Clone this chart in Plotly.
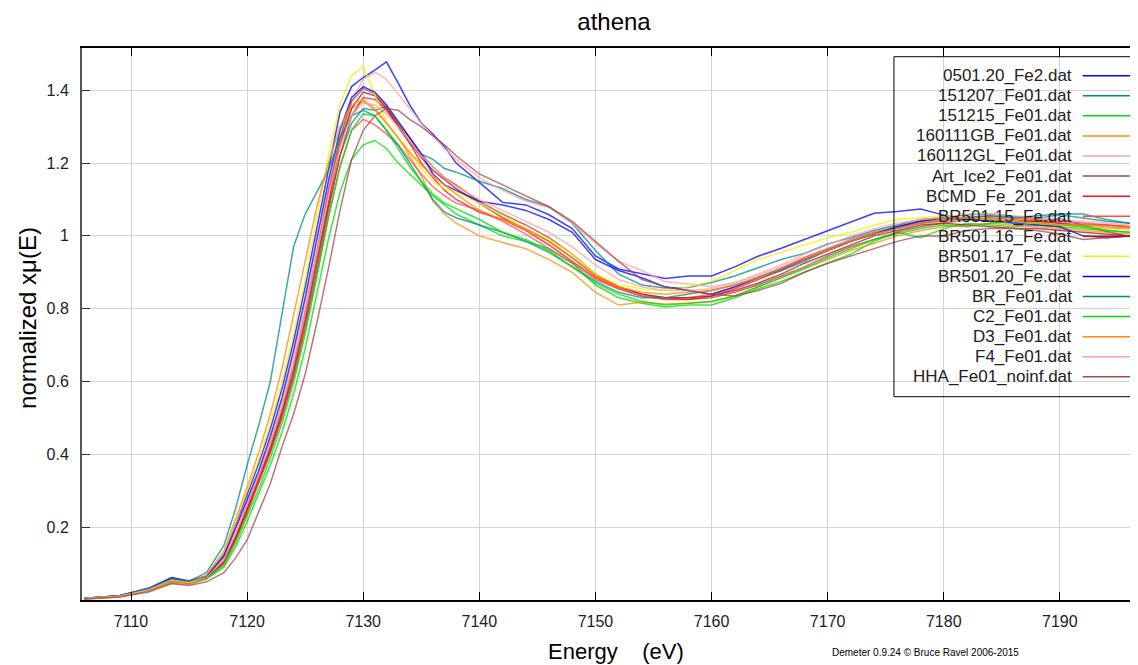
import plotly.graph_objects as go

# energy grid (eV)
energy = [7106, 7109, 7111.5, 7113.5, 7115, 7116.5,
          7118, 7119, 7120, 7121, 7122, 7123, 7124, 7125, 7126, 7127, 7128, 7129, 7130,
          7131, 7132, 7133, 7134, 7135, 7136, 7137, 7138,
          7140, 7142, 7144, 7146, 7148, 7150, 7152, 7154, 7156, 7158, 7160, 7162, 7164,
          7166, 7168, 7170, 7172, 7174, 7176, 7178, 7180, 7182, 7184, 7186, 7188, 7190,
          7192, 7194, 7196, 7197]

# normalized mu(E) for each file
mu_0501_20_Fe2 = [0.005, 0.012, 0.032, 0.062, 0.052, 0.066,
                  0.125, 0.205, 0.29, 0.375, 0.47, 0.58, 0.71, 0.86, 1.02, 1.18, 1.34, 1.41, 1.435,
                  1.455, 1.478, 1.42, 1.36, 1.31, 1.28, 1.245, 1.2,
                  1.147, 1.092, 1.085, 1.058, 1.02, 0.945, 0.909, 0.897, 0.883, 0.89, 0.89, 0.915, 0.944,
                  0.966, 0.99, 1.012, 1.037, 1.062, 1.067, 1.074, 1.057, 1.046, 1.042, 1.038, 1.04, 1.046,
                  1.03, 1.012, 0.998, 0.995]
mu_151207_Fe01 = [0.004, 0.010, 0.029, 0.056, 0.049, 0.062,
                  0.105, 0.17, 0.245, 0.325, 0.41, 0.51, 0.62, 0.76, 0.92, 1.08, 1.22, 1.31, 1.35,
                  1.345, 1.355, 1.3, 1.255, 1.225, 1.21, 1.185, 1.175,
                  1.15, 1.13, 1.1, 1.08, 1.035, 0.96, 0.895, 0.865, 0.857, 0.858, 0.872, 0.89, 0.912,
                  0.935, 0.952, 0.978, 0.995, 1.015, 1.03, 1.045, 1.05, 1.058, 1.06, 1.055, 1.048, 1.058,
                  1.05, 1.04, 1.035, 1.035]
mu_151215_Fe01 = [0.003, 0.009, 0.026, 0.05, 0.045, 0.058,
                  0.09, 0.145, 0.215, 0.29, 0.37, 0.46, 0.565, 0.69, 0.84, 0.99, 1.12, 1.21, 1.25,
                  1.262, 1.24, 1.2, 1.17, 1.14, 1.11, 1.085, 1.06,
                  1.03, 1.0, 0.985, 0.965, 0.925, 0.865, 0.83, 0.815, 0.805, 0.81, 0.81, 0.83, 0.855,
                  0.875, 0.9, 0.925, 0.95, 0.985, 1.01, 0.995, 1.02, 1.035, 1.03, 1.025, 1.03, 1.025,
                  1.02, 1.015, 1.01, 1.01]
mu_160111GB_Fe01 = [0.003, 0.008, 0.024, 0.046, 0.042, 0.058,
                    0.11, 0.18, 0.26, 0.34, 0.43, 0.53, 0.65, 0.79, 0.95, 1.12, 1.26, 1.35, 1.37,
                    1.345, 1.31, 1.27, 1.22, 1.165, 1.095, 1.06, 1.035,
                    1.0, 0.982, 0.965, 0.935, 0.9, 0.845, 0.81, 0.818, 0.813, 0.815, 0.82, 0.835, 0.86,
                    0.885, 0.91, 0.935, 0.96, 0.98, 1.0, 1.015, 1.025, 1.03, 1.035, 1.03, 1.025, 1.02,
                    1.015, 1.01, 1.005, 1.005]
mu_160112GL_Fe01 = [0.004, 0.011, 0.03, 0.058, 0.05, 0.064,
                    0.115, 0.19, 0.27, 0.35, 0.44, 0.545, 0.67, 0.81, 0.97, 1.13, 1.27, 1.37, 1.43,
                    1.45, 1.43, 1.39, 1.35, 1.31, 1.275, 1.24, 1.21,
                    1.16, 1.125, 1.095, 1.078, 1.035, 0.98, 0.93, 0.905, 0.875, 0.868, 0.86, 0.872, 0.89,
                    0.915, 0.942, 0.965, 0.985, 1.008, 1.02, 1.035, 1.045, 1.05, 1.055, 1.05, 1.045, 1.04,
                    1.035, 1.03, 1.025, 1.025]
mu_Art_Ice2_Fe01 = [0.004, 0.011, 0.03, 0.06, 0.052, 0.063,
                    0.105, 0.175, 0.255, 0.335, 0.425, 0.525, 0.645, 0.79, 0.95, 1.12, 1.27, 1.37, 1.405,
                    1.39, 1.355, 1.31, 1.27, 1.225, 1.19, 1.16, 1.14,
                    1.095, 1.06, 1.03, 0.995, 0.95, 0.895, 0.86, 0.84, 0.83, 0.825, 0.83, 0.845, 0.865,
                    0.89, 0.915, 0.945, 0.97, 0.99, 1.01, 1.025, 1.035, 1.045, 1.05, 1.045, 1.04, 1.035,
                    1.03, 1.03, 1.025, 1.025]
mu_BCMD_Fe_201 = [0.004, 0.010, 0.028, 0.055, 0.048, 0.06,
                  0.1, 0.165, 0.24, 0.32, 0.405, 0.5, 0.61, 0.745, 0.9, 1.07, 1.22, 1.33, 1.38,
                  1.375, 1.345, 1.3, 1.255, 1.2, 1.16, 1.125, 1.1,
                  1.065, 1.045, 1.015, 0.975, 0.93, 0.885, 0.855, 0.835, 0.825, 0.825, 0.835, 0.855, 0.88,
                  0.905, 0.935, 0.96, 0.985, 1.005, 1.025, 1.04, 1.045, 1.05, 1.045, 1.04, 1.04, 1.035,
                  1.025, 1.02, 1.02, 1.02]
mu_BR501_15_Fe = [0.004, 0.010, 0.027, 0.053, 0.047, 0.06,
                  0.1, 0.165, 0.24, 0.32, 0.405, 0.5, 0.61, 0.745, 0.895, 1.05, 1.19, 1.29, 1.32,
                  1.305, 1.28, 1.25, 1.21, 1.17, 1.135, 1.11, 1.09,
                  1.07, 1.04, 1.005, 0.965, 0.925, 0.88, 0.855, 0.835, 0.83, 0.83, 0.84, 0.86, 0.885,
                  0.91, 0.94, 0.965, 0.99, 1.01, 1.025, 1.035, 1.04, 1.05, 1.055, 1.05, 1.045, 1.04,
                  1.035, 1.03, 1.025, 1.025]
mu_BR501_16_Fe = [0.004, 0.010, 0.028, 0.056, 0.049, 0.062,
                  0.105, 0.17, 0.25, 0.33, 0.415, 0.515, 0.63, 0.77, 0.93, 1.1, 1.25, 1.35, 1.395,
                  1.385, 1.35, 1.305, 1.26, 1.215, 1.18, 1.155, 1.13,
                  1.09, 1.05, 1.02, 0.985, 0.94, 0.89, 0.86, 0.84, 0.83, 0.83, 0.835, 0.85, 0.87,
                  0.895, 0.925, 0.95, 0.975, 1.0, 1.015, 1.03, 1.035, 1.03, 1.025, 1.02, 1.02, 1.015,
                  1.01, 1.005, 1.0, 1.0]
mu_BR501_17_Fe = [0.004, 0.011, 0.03, 0.057, 0.05, 0.066,
                  0.13, 0.21, 0.3, 0.385, 0.485, 0.6, 0.73, 0.88, 1.05, 1.22, 1.36, 1.44, 1.465,
                  1.385, 1.31, 1.27, 1.23, 1.185, 1.15, 1.13, 1.12,
                  1.09, 1.055, 1.02, 0.99, 0.95, 0.895, 0.865, 0.855, 0.85, 0.86, 0.875, 0.905, 0.935,
                  0.955, 0.975, 0.995, 1.01, 1.03, 1.045, 1.05, 1.055, 1.05, 1.045, 1.04, 1.035, 1.03,
                  1.025, 1.02, 1.02, 1.02]
mu_BR501_20_Fe = [0.005, 0.012, 0.031, 0.06, 0.051, 0.065,
                  0.12, 0.195, 0.275, 0.355, 0.45, 0.555, 0.685, 0.83, 0.99, 1.15, 1.29, 1.38, 1.41,
                  1.395, 1.36, 1.315, 1.27, 1.225, 1.17, 1.14, 1.125,
                  1.095, 1.085, 1.07, 1.045, 1.01, 0.935, 0.905, 0.885, 0.86, 0.85, 0.84, 0.86, 0.885,
                  0.91, 0.935, 0.96, 0.985, 1.005, 1.025, 1.04, 1.05, 1.045, 1.04, 1.035, 1.03, 1.025,
                  1.0, 0.995, 1.0, 1.0]
mu_BR_Fe01 = [0.005, 0.012, 0.032, 0.058, 0.052, 0.075,
              0.15, 0.25, 0.37, 0.48, 0.6, 0.78, 0.97, 1.06, 1.12, 1.18, 1.27, 1.33, 1.345,
              1.33, 1.29, 1.25, 1.2, 1.15, 1.1, 1.065, 1.05,
              1.03, 1.01, 0.985, 0.955, 0.915, 0.875, 0.845, 0.83, 0.83, 0.84, 0.85, 0.865, 0.885,
              0.905, 0.93, 0.96, 0.985, 1.005, 1.02, 1.035, 1.045, 1.05, 1.055, 1.05, 1.055, 1.06,
              1.06, 1.045, 1.035, 1.03]
mu_C2_Fe01 = [0.004, 0.010, 0.027, 0.052, 0.046, 0.059,
              0.095, 0.155, 0.23, 0.305, 0.39, 0.485, 0.595, 0.73, 0.885, 1.05, 1.19, 1.29, 1.335,
              1.33, 1.29, 1.24, 1.19, 1.15, 1.115, 1.09, 1.075,
              1.045, 1.01, 0.99, 0.96, 0.915, 0.87, 0.84, 0.82, 0.81, 0.815, 0.82, 0.835, 0.86,
              0.885, 0.91, 0.94, 0.965, 0.99, 1.005, 1.02, 1.03, 1.025, 1.035, 1.04, 1.035, 1.03,
              1.025, 1.015, 1.01, 1.01]
mu_D3_Fe01 = [0.004, 0.010, 0.026, 0.05, 0.046, 0.068,
              0.135, 0.22, 0.31, 0.405, 0.51, 0.635, 0.78, 0.93, 1.08, 1.2, 1.3, 1.36, 1.375,
              1.35, 1.31, 1.27, 1.23, 1.195, 1.165, 1.14, 1.115,
              1.07, 1.045, 1.02, 0.985, 0.94, 0.89, 0.86, 0.845, 0.84, 0.845, 0.85, 0.865, 0.885,
              0.91, 0.935, 0.96, 0.985, 1.005, 1.02, 1.035, 1.045, 1.05, 1.045, 1.04, 1.035, 1.03,
              1.03, 1.025, 1.02, 1.02]
mu_F4_Fe01 = [0.004, 0.010, 0.028, 0.055, 0.048, 0.062,
              0.11, 0.18, 0.26, 0.34, 0.43, 0.53, 0.65, 0.79, 0.95, 1.11, 1.245, 1.33, 1.365,
              1.36, 1.335, 1.3, 1.26, 1.22, 1.19, 1.16, 1.135,
              1.1, 1.07, 1.04, 1.01, 0.97, 0.92, 0.88, 0.86, 0.85, 0.85, 0.855, 0.87, 0.895,
              0.92, 0.95, 0.975, 1.0, 1.02, 1.035, 1.045, 1.05, 1.06, 1.06, 1.055, 1.05, 1.045,
              1.04, 1.035, 1.03, 1.03]
mu_HHA_Fe01_noinf = [0.003, 0.008, 0.022, 0.045, 0.04, 0.05,
                     0.075, 0.115, 0.165, 0.24, 0.32, 0.42, 0.51, 0.62, 0.76, 0.91, 1.07, 1.21, 1.29,
                     1.33, 1.35, 1.345, 1.32, 1.3, 1.275, 1.25, 1.22,
                     1.17, 1.14, 1.11, 1.08, 1.04, 0.985, 0.93, 0.88, 0.86, 0.85, 0.84, 0.835, 0.85,
                     0.87, 0.9, 0.925, 0.945, 0.965, 0.985, 1.0, 1.0, 1.015, 1.02, 1.02, 1.015, 1.005,
                     0.99, 0.995, 1.0, 1.0]

labels = ["0501.20_Fe2.dat", "151207_Fe01.dat", "151215_Fe01.dat", "160111GB_Fe01.dat",
          "160112GL_Fe01.dat", "Art_Ice2_Fe01.dat", "BCMD_Fe_201.dat", "BR501.15_Fe.dat",
          "BR501.16_Fe.dat", "BR501.17_Fe.dat", "BR501.20_Fe.dat", "BR_Fe01.dat",
          "C2_Fe01.dat", "D3_Fe01.dat", "F4_Fe01.dat", "HHA_Fe01_noinf.dat"]
series = [mu_0501_20_Fe2, mu_151207_Fe01, mu_151215_Fe01, mu_160111GB_Fe01,
          mu_160112GL_Fe01, mu_Art_Ice2_Fe01, mu_BCMD_Fe_201, mu_BR501_15_Fe,
          mu_BR501_16_Fe, mu_BR501_17_Fe, mu_BR501_20_Fe, mu_BR_Fe01,
          mu_C2_Fe01, mu_D3_Fe01, mu_F4_Fe01, mu_HHA_Fe01_noinf]
colors = ["#0000ff", "#008b8b", "#00dd00", "#ff8c00", "#ffa0a0", "#a84848",
          "#ff1010", "#ff4a4a", "#b01818", "#f2f200", "#0000ff", "#008b8b",
          "#00dd00", "#ff8c00", "#ffa0a0", "#a84848"]

ytick_vals = [0.2, 0.4, 0.6, 0.8, 1.0, 1.2, 1.4]
ytick_text = ["0.2", "0.4", "0.6", "0.8", "1", "1.2", "1.4"]
xtick_vals = [7110, 7120, 7130, 7140, 7150, 7160, 7170, 7180, 7190]

FONT = "Liberation Sans, Arial, sans-serif"

fig = go.Figure()
for name, ys, col in zip(labels, series, colors):
    fig.add_trace(go.Scatter(x=energy, y=ys, mode="lines", name=name,
                             line=dict(color=col, width=1.5), opacity=0.75,
                             showlegend=False))

# hand-built legend (text on the left, sample line on the right, like Demeter)
row0 = 0.9498
step = 0.03636
fig.add_shape(type="rect", xref="paper", yref="paper", x0=0.7689, x1=1.01,
              y0=0.3683, y1=0.9842, line=dict(color="black", width=1))
for i, (name, col) in enumerate(zip(labels, colors)):
    yy = row0 - i * step
    fig.add_annotation(xref="paper", yref="paper", x=0.9394, y=yy, text=name,
                       showarrow=False, xanchor="right", yanchor="middle",
                       font=dict(family=FONT, size=17, color="#222222"))
    fig.add_shape(type="line", xref="paper", yref="paper", x0=0.9476, x1=0.9924,
                  y0=yy, y1=yy, line=dict(color=col, width=1.5))

# axis titles and footer
fig.add_annotation(xref="paper", yref="paper", x=0.5057, y=-0.0924,
                   text="Energy\u00a0\u00a0\u00a0\u00a0(eV)", showarrow=False,
                   xanchor="center", yanchor="middle",
                   font=dict(family=FONT, size=22, color="black"))
fig.add_annotation(xref="paper", yref="paper", x=-0.0511, y=0.511,
                   text="normalized x\u03bc(E)", showarrow=False, textangle=-90,
                   xanchor="center", yanchor="middle",
                   font=dict(family=FONT, size=24, color="black"))
fig.add_annotation(xref="paper", yref="paper", x=0.7983, y=-0.096,
                   text="Demeter 0.9.24 \u00a9 Bruce Ravel 2006-2015", showarrow=False,
                   xanchor="center", yanchor="middle",
                   font=dict(family=FONT, size=10, color="black"))

# the page body has an 8px margin, so the figure is 8px smaller than the window
fig.update_layout(
    width=1130, height=657,
    margin=dict(l=74, r=0, t=40, b=65),
    paper_bgcolor="white", plot_bgcolor="white",
    title=dict(text="athena", x=0.5038, xref="paper", xanchor="center",
               y=1 - 14 / 657, yref="container", yanchor="middle",
               font=dict(family=FONT, size=24, color="black")),
    font=dict(family=FONT),
)
fig.update_xaxes(range=[7105.78, 7196.73], tickvals=xtick_vals,
                 ticks="inside", ticklen=8, tickcolor="black", tickwidth=1,
                 showline=True, linecolor="black", linewidth=1.5, mirror="ticks",
                 showgrid=True, gridcolor="#d4d4d4", gridwidth=1, zeroline=False,
                 tickfont=dict(family=FONT, size=16, color="#222222"),
                 ticklabelstandoff=6)
fig.update_yaxes(range=[0, 1.516], tickvals=ytick_vals, ticktext=ytick_text,
                 ticks="inside", ticklen=8, tickcolor="#333333", tickwidth=1,
                 showline=True, linecolor="#555555", linewidth=2,
                 showgrid=True, gridcolor="#d4d4d4", gridwidth=1, zeroline=False,
                 tickfont=dict(family=FONT, size=16, color="#222222"),
                 ticklabelstandoff=8)

fig.write_html("out.html")
